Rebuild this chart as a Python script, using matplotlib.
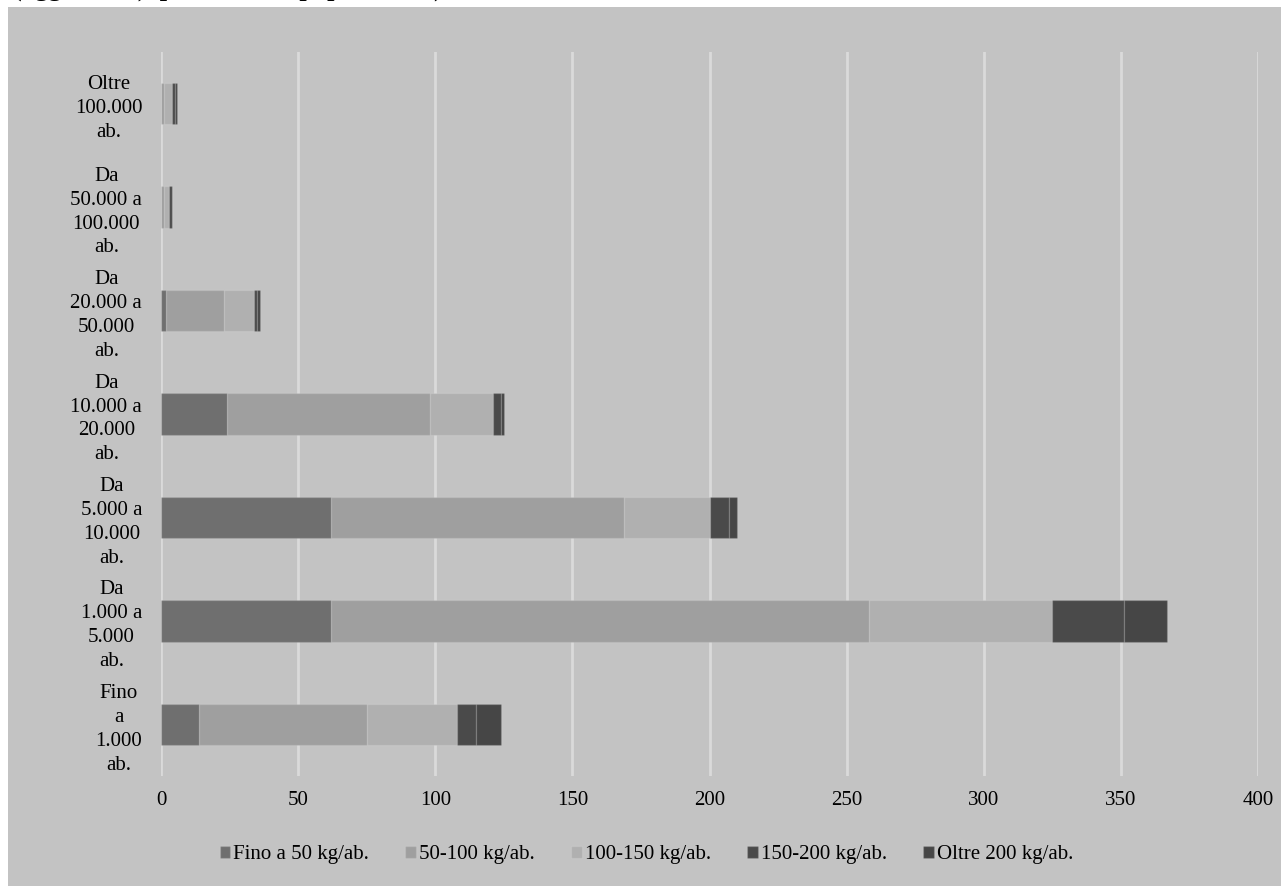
import matplotlib
matplotlib.use("Agg")
import matplotlib.pyplot as plt
from matplotlib.patches import Rectangle
import numpy as np

plt.rcParams['font.family'] = ['Liberation Serif', 'DejaVu Serif']

categories = [
    "Fino\na\n1.000\nab.",
    "Da\n1.000 a\n5.000\nab.",
    "Da\n5.000 a\n10.000\nab.",
    "Da\n10.000 a\n20.000\nab.",
    "Da\n20.000 a\n50.000\nab.",
    "Da\n50.000 a\n100.000\nab.",
    "Oltre\n100.000\nab.",
]
series_names = ["Fino a 50 kg/ab.", "50-100 kg/ab.", "100-150 kg/ab.",
                "150-200 kg/ab.", "Oltre 200 kg/ab."]
fino_50 = [14, 62, 62, 24, 2, 0, 0]
da_50_100 = [61, 196, 107, 74, 21, 1, 1]
da_100_150 = [33, 67, 31, 23, 11, 2, 3]
da_150_200 = [7, 26, 7, 3, 1, 1, 1]
oltre_200 = [9, 16, 3, 1, 1, 0, 1]
xticks = [0, 50, 100, 150, 200, 250, 300, 350, 400]

colors = ["#6f6f6f", "#9f9f9f", "#b0b0b0", "#4a4a4a", "#464646"]
panel = "#c3c3c3"

fig = plt.figure(figsize=(12.81, 8.86), dpi=100)
fig.patch.set_facecolor("white")
fig.add_artist(Rectangle((8 / 1281, 0), 1 - 8 / 1281, 1 - 7 / 886,
                         transform=fig.transFigure, facecolor=panel,
                         edgecolor="none", zorder=0))

# title line, mostly above the top edge of the canvas
fig.text(13 / 1281, 1 + 4.5 / 886, "(aggiornati), per classi di popolazione)",
         fontsize=19, fontweight="bold", ha="left", va="baseline")

ax = fig.add_axes([161 / 1281, 1 - 776 / 886, (1258 - 161) / 1281, (776 - 52) / 886])
ax.set_facecolor(panel)
ax.patch.set_alpha(0)

y = np.arange(len(categories))
left = np.zeros(len(categories))
for name, vals, c in zip(series_names,
                         [fino_50, da_50_100, da_100_150, da_150_200, oltre_200],
                         colors):
    vals = np.array(vals, dtype=float)
    ax.barh(y, vals, left=left, height=0.4, color=c, label=name,
            edgecolor=(1, 1, 1, 0.12), linewidth=1, zorder=3)
    left += vals

ax.set_xlim(0, 400)
ax.set_ylim(-0.5, len(categories) - 0.5)
ax.set_xticks(xticks)
ax.set_xticklabels([str(v) for v in xticks])
ax.set_yticks(y)
ax.set_yticklabels(categories, multialignment="center", linespacing=1.35)
ax.tick_params(axis="both", length=0, labelsize=15, colors="black")
ax.tick_params(axis="x", pad=11)
ax.tick_params(axis="y", pad=13.5)
ax.grid(axis="x", color="#dadada", linewidth=2, zorder=1)
ax.set_axisbelow(True)
for s in ax.spines.values():
    s.set_visible(False)

leg = fig.legend(loc="center", bbox_to_anchor=(0.5 + 8 / 1281 / 2 + 2 / 1281, 1 - 855 / 886),
                 ncol=5, frameon=False, fontsize=15, handlelength=0.5,
                 handleheight=0.5, handletextpad=0.15, columnspacing=1.75)

fig.savefig("out.png", dpi=100, facecolor=fig.get_facecolor())
